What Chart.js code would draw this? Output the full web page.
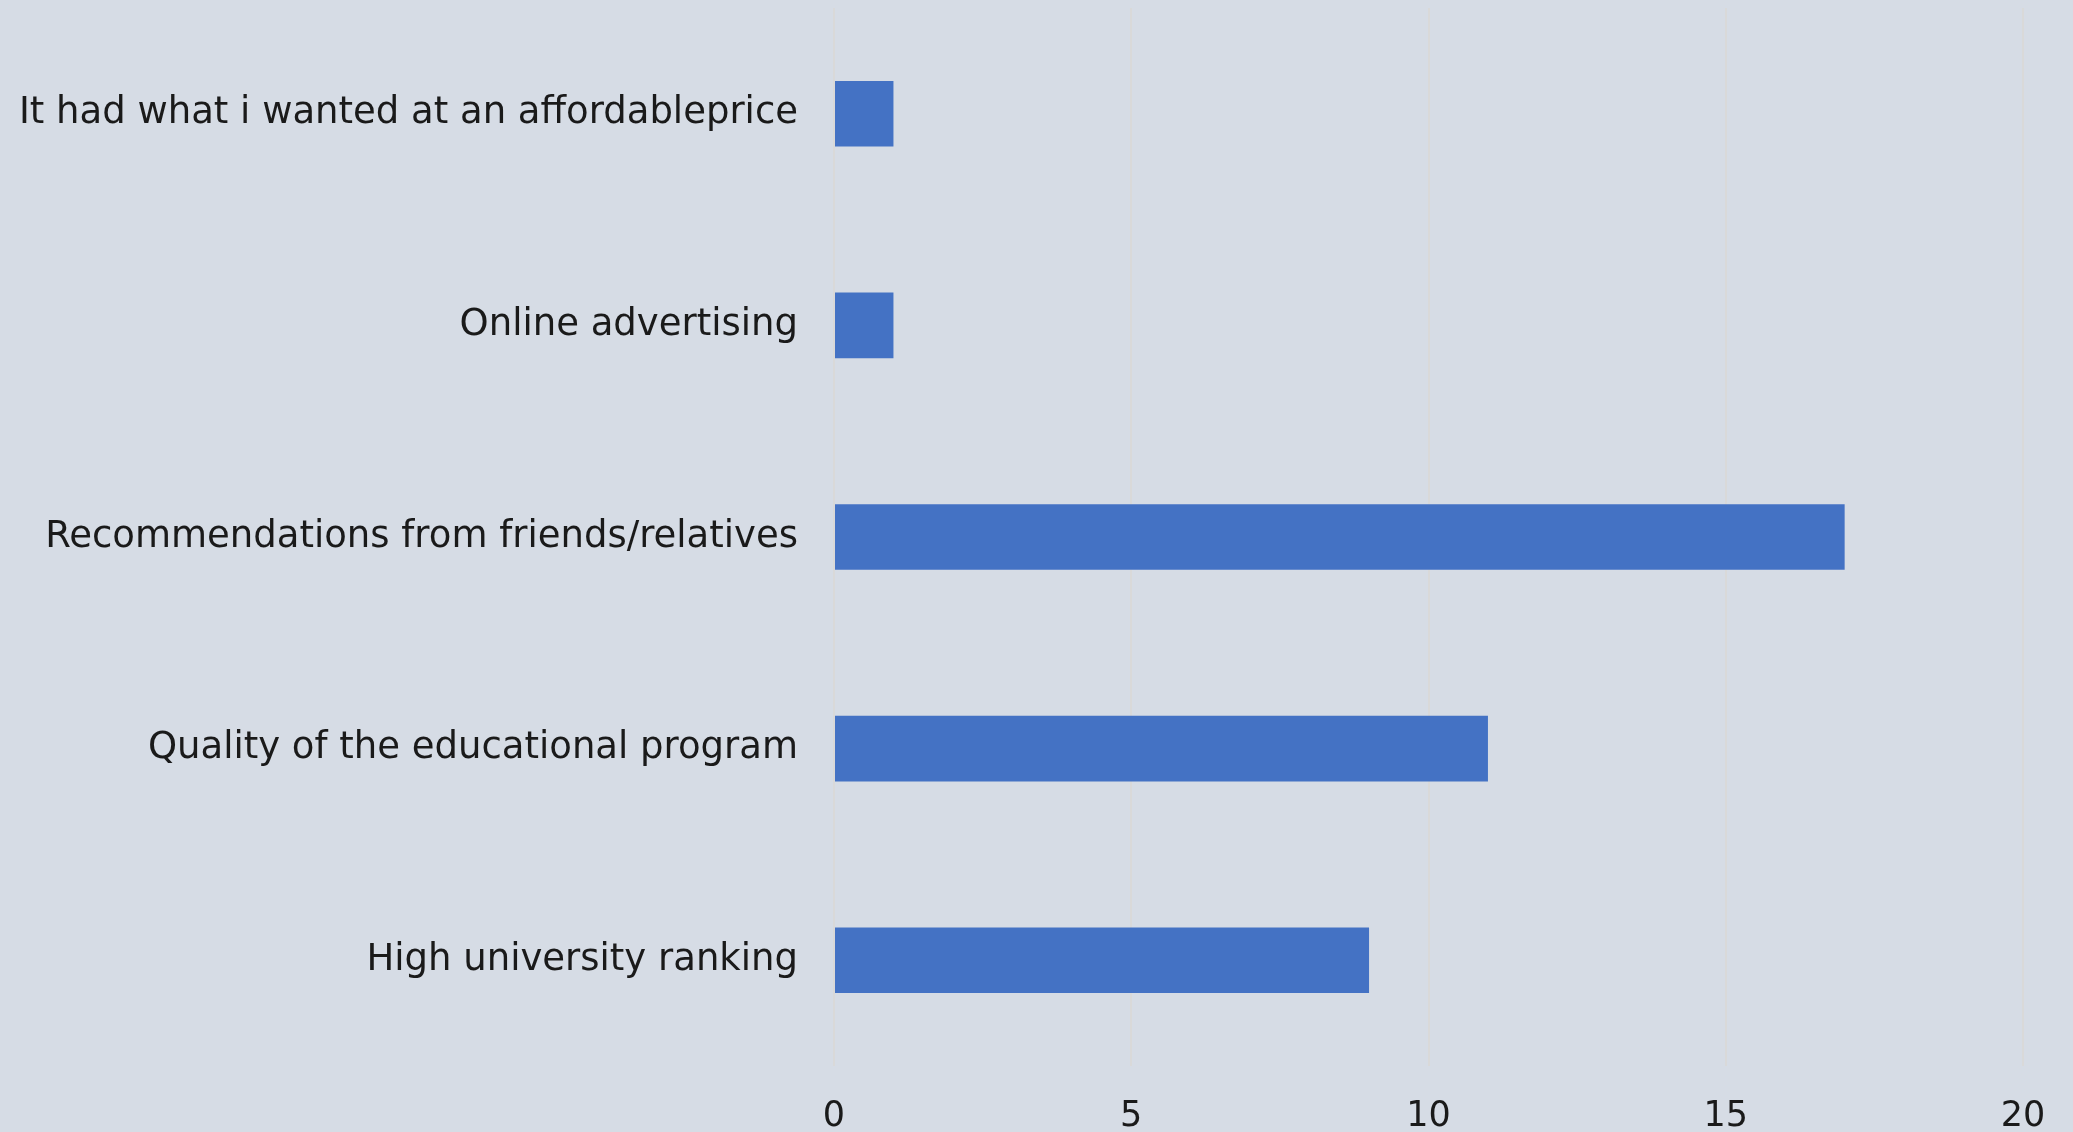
<!DOCTYPE html>
<html>
<head>
<meta charset="utf-8">
<script src="https://cdn.jsdelivr.net/npm/chart.js@4"></script>
<style>
  html, body { margin: 0; padding: 0; background: #d6dce5; overflow: hidden; }
  canvas { display: block; }
</style>
</head>
<body>
<canvas id="chart" width="2073" height="1132"></canvas>
<script>
// data, top to bottom
const categories = [
  'It had what i wanted at an affordableprice',
  'Online advertising',
  'Recommendations from friends/relatives',
  'Quality of the educational program',
  'High university ranking'
];
const responses = [1, 1, 17, 11, 9];
const xTicks = [0, 5, 10, 15, 20];

const textColor = '#1a1a1a';
const fontFamily = '"DejaVu Sans", sans-serif';

const ctx = document.getElementById('chart').getContext('2d');
const chart = new Chart(ctx, {
  type: 'bar',
  data: {
    labels: categories,
    datasets: [{
      data: responses,
      backgroundColor: '#4472c4',
      borderWidth: 0,
      categoryPercentage: 1,
      barPercentage: 0.31
    }]
  },
  options: {
    indexAxis: 'y',
    responsive: false,
    animation: false,
    layout: { padding: { top: 8, right: 50, left: 0, bottom: 0 } },
    plugins: { legend: { display: false }, tooltip: { enabled: false } },
    scales: {
      x: {
        min: 0,
        max: 20,
        afterBuildTicks: (scale) => { scale.ticks = xTicks.map(v => ({ value: v })); },
        afterFit: (scale) => {
          scale.height = 66;
          scale.paddingLeft = 0;
          scale.paddingRight = 0;
        },
        grid: { color: '#d9d9d9', lineWidth: 2, drawTicks: false },
        border: { display: false },
        ticks: { color: textColor, font: { family: fontFamily, size: 35 }, padding: 30 }
      },
      y: {
        afterFit: (scale) => {
          scale.width = 834;
          scale.paddingTop = 0;
          scale.paddingBottom = 0;
        },
        grid: { display: false, drawTicks: false },
        border: { display: false },
        ticks: { color: textColor, font: { family: fontFamily, size: 37 }, padding: 36 }
      }
    }
  }
});
</script>
</body>
</html>
